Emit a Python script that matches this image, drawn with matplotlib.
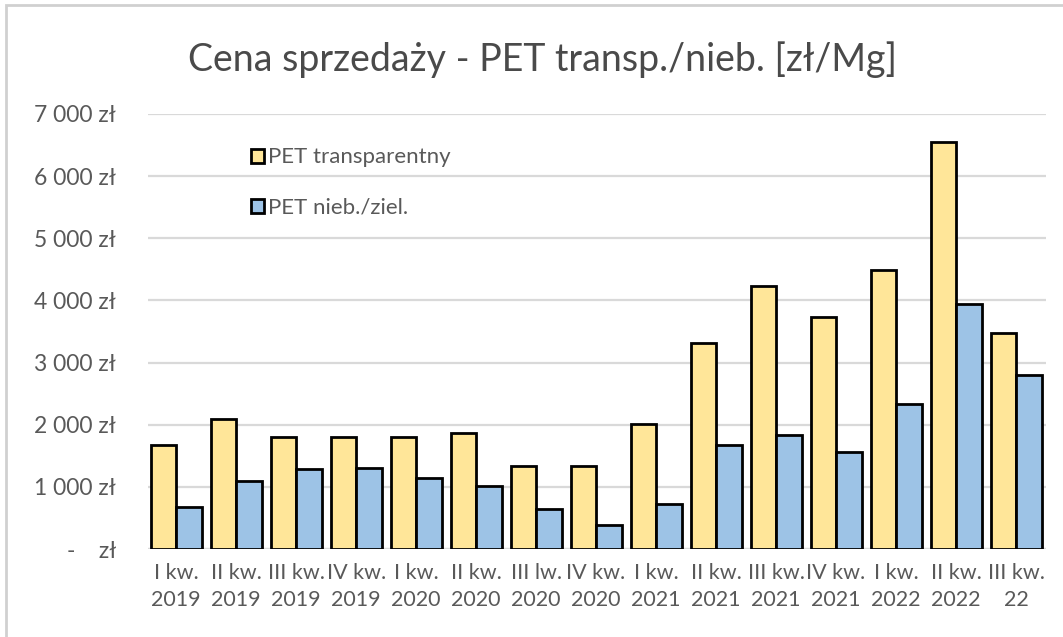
import numpy as np
import matplotlib
matplotlib.use("Agg")
import matplotlib.pyplot as plt
from matplotlib.patches import Rectangle

plt.rcParams['font.family'] = ['Lato', 'DejaVu Sans']

# Data
quarters = ["I kw.\n2019", "II kw.\n2019", "III kw.\n2019", "IV kw.\n2019",
            "I kw.\n2020", "II kw.\n2020", "III lw.\n2020", "IV kw.\n2020",
            "I kw.\n2021", "II kw.\n2021", "III kw.\n2021", "IV kw.\n2021",
            "I kw.\n2022", "II kw.\n2022", "III kw.\n22"]
pet_transparent = [1680, 2100, 1800, 1800, 1800, 1870, 1340, 1340,
                   2010, 3310, 4240, 3740, 4490, 6550, 3470]
pet_blue_green = [680, 1100, 1290, 1300, 1150, 1010, 640, 380,
                  720, 1680, 1840, 1560, 2330, 3940, 2800]
y_ticks = [0, 1000, 2000, 3000, 4000, 5000, 6000, 7000]

TEXT = "#595959"
GRID = "#d9d9d9"
YELLOW = "#ffe699"
BLUE = "#9dc3e6"

fig = plt.figure(figsize=(10.63, 6.37), dpi=100)
ax = fig.add_axes([148 / 1063, 1 - 549 / 637, (1046 - 148) / 1063, (549 - 114) / 637])

x = np.arange(len(quarters))
w = 0.42
ax.bar(x - w / 2 - 0.005, pet_transparent, w, color=YELLOW, edgecolor="black",
       linewidth=2, label="PET transparentny", zorder=3)
ax.bar(x + w / 2 + 0.005, pet_blue_green, w, color=BLUE, edgecolor="black",
       linewidth=2, label="PET nieb./ziel.", zorder=3)

ax.set_xlim(-0.47, len(quarters) - 0.5)
ax.set_ylim(0, 7000)
ax.set_yticks(y_ticks)
ax.set_yticklabels(["-    zł" if v == 0 else f"{v // 1000} 000 zł" for v in y_ticks])
ax.set_xticks(x)
ax.set_xticklabels(quarters, linespacing=1.45, fontsize=15.5)

ax.grid(axis="y", color=GRID, linewidth=1.6, zorder=0)
for s in ["top", "right", "left", "bottom"]:
    ax.spines[s].set_visible(False)
ax.axhline(0, color=GRID, linewidth=1.6, zorder=1)
ax.tick_params(axis="both", length=0, colors=TEXT)
ax.tick_params(axis="y", pad=23, labelsize=16.5)
ax.tick_params(axis="x", pad=10)

fig.suptitle("Cena sprzedaży - PET transp./nieb. [zł/Mg]", x=0.51, y=0.935,
             fontsize=27, color="#4a4a4a")

leg = ax.legend(loc="upper left", bbox_to_anchor=(0.217, 0.80),
                bbox_transform=fig.transFigure, frameon=False, fontsize=16,
                labelspacing=1.35, handlelength=0.6, handleheight=0.6,
                handletextpad=0.2)
for t in leg.get_texts():
    t.set_color(TEXT)

# chart frame
fig.patches.append(Rectangle((6 / 1063, -0.1), 1.2, 1 - 5 / 637 + 0.1,
                             transform=fig.transFigure, fill=False,
                             edgecolor="#d0d0d0", linewidth=2))

fig.savefig("out.png", dpi=100, facecolor="white")
